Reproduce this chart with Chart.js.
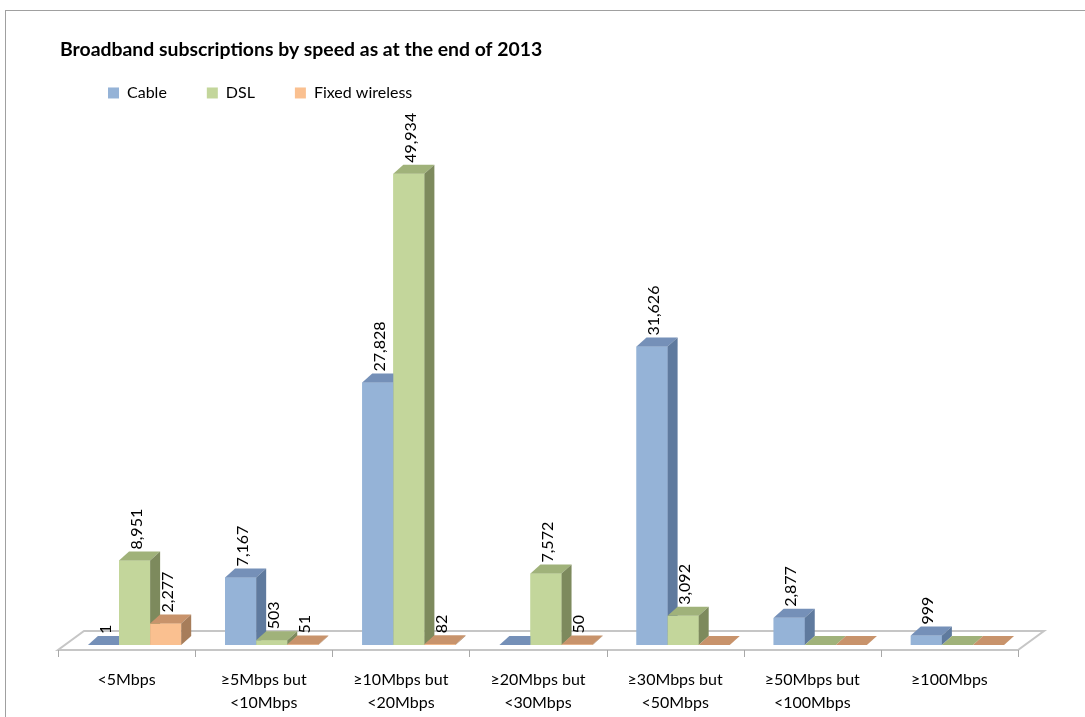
<!DOCTYPE html>
<html>
<head>
  <meta charset="utf-8">
  <title>Broadband subscriptions by speed</title>
  <script src="https://cdn.jsdelivr.net/npm/chart.js"></script>
  <style>
    * { margin: 0; padding: 0; box-sizing: border-box; }
    html, body { width: 100%; height: 100%; overflow: hidden; background: #fff; }
    #wrap { width: 1085px; height: 717px; }
  </style>
</head>
<body>
  <div id="wrap"><canvas id="chart"></canvas></div>

  <script>
    // data
    const categories = [
      '<5Mbps',
      ['≥5Mbps but', '<10Mbps'],
      ['≥10Mbps but', '<20Mbps'],
      ['≥20Mbps but', '<30Mbps'],
      ['≥30Mbps but', '<50Mbps'],
      ['≥50Mbps but', '<100Mbps'],
      '≥100Mbps'
    ];
    const seriesNames = ['Cable', 'DSL', 'Fixed wireless'];
    const cable = [1, 7167, 27828, 0, 31626, 2877, 999];
    const dsl = [8951, 503, 49934, 7572, 3092, 0, 0];
    const fixedWireless = [2277, 51, 82, 50, 0, 0, 0];

    // colours: front, top, side face of each series
    const frontColors = ['#95b3d7', '#c3d69b', '#fac090'];
    const topColors = ['#7590b8', '#a0b27a', '#c8936b'];
    const sideColors = ['#5f7a9e', '#7d8a5d', '#a77d5a'];

    const FONT = 'Lato, "Liberation Sans", sans-serif';
    const DX = 10, DY = -9;            // depth of each bar
    const FLOOR_SHIFT = -8, FLOOR_DROP = 5, FLOOR_DX = 26, FLOOR_DY = -19;

    const fake3d = {
      id: 'fake3d',
      afterLayout(chart) {
        // nudge title and legend to where the original sits
        chart.titleBlock.left -= 6;
        chart.titleBlock.right -= 6;
        chart.legend.left += 2;
        chart.legend.right += 2;
      },
      beforeDraw(chart) {
        const ctx = chart.ctx;
        ctx.save();
        ctx.fillStyle = '#fff';
        ctx.fillRect(0, 0, chart.width, chart.height);
        ctx.strokeStyle = '#a0a0a0';
        ctx.lineWidth = 1;
        ctx.strokeRect(5.5, 10.5, chart.width + 20, chart.height + 20);
        ctx.restore();
      },
      beforeDatasetsDraw(chart) {
        const { ctx, chartArea: a } = chart;
        const y0 = a.bottom + FLOOR_DROP;
        const x0 = a.left + FLOOR_SHIFT, x1 = a.right + FLOOR_SHIFT;
        ctx.save();
        ctx.beginPath();
        ctx.moveTo(x0, y0);
        ctx.lineTo(x1, y0);
        ctx.lineTo(x1 + FLOOR_DX, y0 + FLOOR_DY);
        ctx.lineTo(x0 + FLOOR_DX, y0 + FLOOR_DY);
        ctx.closePath();
        ctx.fillStyle = '#fff';
        ctx.fill();
        ctx.strokeStyle = '#c6c6c6';
        ctx.lineWidth = 2;
        ctx.stroke();
        // tick marks between categories
        ctx.strokeStyle = '#a8a8a8';
        ctx.lineWidth = 1;
        const n = categories.length;
        for (let i = 0; i <= n; i++) {
          const px = Math.round(x0 + i * (x1 - x0) / n) + 0.5;
          ctx.beginPath();
          ctx.moveTo(px, y0);
          ctx.lineTo(px, y0 + 7);
          ctx.stroke();
        }
        ctx.restore();
      },
      afterDatasetsDraw(chart) {
        const ctx = chart.ctx;
        ctx.save();
        // redraw left to right so each side face is hidden by its neighbour
        chart.data.datasets.forEach((ds, i) => {
          chart.getDatasetMeta(i).data.forEach(bar => {
            const { x, y, base, width } = bar.getProps(['x', 'y', 'base', 'width'], true);
            const l = x - width / 2, r = x + width / 2;
            bar.draw(ctx);
            ctx.fillStyle = topColors[i];
            ctx.beginPath();
            ctx.moveTo(l, y);
            ctx.lineTo(r, y);
            ctx.lineTo(r + DX, y + DY);
            ctx.lineTo(l + DX, y + DY);
            ctx.closePath();
            ctx.fill();
            ctx.fillStyle = sideColors[i];
            ctx.beginPath();
            ctx.moveTo(r, y);
            ctx.lineTo(r + DX, y + DY);
            ctx.lineTo(r + DX, base + DY);
            ctx.lineTo(r, base);
            ctx.closePath();
            ctx.fill();
          });
        });
        // value labels, rotated
        ctx.fillStyle = '#000';
        ctx.font = '16px ' + FONT;
        ctx.textAlign = 'left';
        ctx.textBaseline = 'middle';
        chart.data.datasets.forEach((ds, i) => {
          chart.getDatasetMeta(i).data.forEach((bar, j) => {
            const v = ds.data[j];
            if (!v) return;
            const { x, y } = bar.getProps(['x', 'y'], true);
            ctx.save();
            ctx.translate(x + 2, y - 11);
            ctx.rotate(-Math.PI / 2);
            ctx.fillText(v.toLocaleString('en-US'), 0, 0);
            ctx.restore();
          });
        });
        ctx.restore();
      }
    };

    const values = [cable, dsl, fixedWireless];
    const ctx = document.getElementById('chart').getContext('2d');
    const chart = new Chart(ctx, {
      type: 'bar',
      data: {
        labels: categories,
        datasets: seriesNames.map((name, i) => ({
          label: name,
          data: values[i],
          backgroundColor: frontColors[i],
          borderWidth: 0,
          categoryPercentage: 0.68,
          barPercentage: 1
        }))
      },
      options: {
        responsive: true,
        maintainAspectRatio: false,
        animation: false,
        layout: { padding: { left: 66, right: 59, top: 0, bottom: 4 } },
        scales: {
          x: {
            grid: { display: false, drawTicks: false },
            border: { display: false },
            ticks: {
              color: '#000',
              font: { family: FONT, size: 16, lineHeight: 1.4 },
              padding: 24,
              labelOffset: FLOOR_SHIFT,
              maxRotation: 0,
              autoSkip: false
            },
            afterFit(scale) { scale.height = 68; }
          },
          y: {
            display: false,
            min: 0,
            max: 56600
          }
        },
        plugins: {
          title: {
            display: true,
            text: 'Broadband subscriptions by speed as at the end of 2013',
            align: 'start',
            color: '#000',
            font: { family: FONT, size: 19.4, weight: 'bold' },
            padding: { top: 38, bottom: -16.3 }
          },
          legend: {
            display: true,
            position: 'top',
            align: 'start',
            labels: {
              color: '#000',
              font: { family: FONT, size: 16 },
              boxWidth: 11,
              boxHeight: 11,
              padding: 40
            }
          },
          tooltip: { enabled: false }
        }
      },
      plugins: [fake3d]
    });
  </script>
</body>
</html>
